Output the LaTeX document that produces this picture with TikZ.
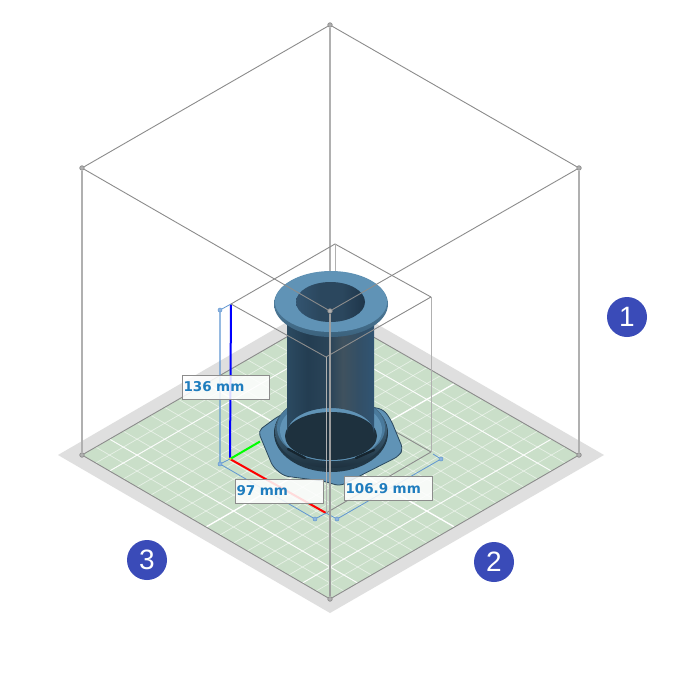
\documentclass[tikz,border=0pt]{standalone}
\usepackage{fontspec}
\setmainfont{Liberation Sans}
\newfontfamily\dimfont{DejaVu Sans}
\usetikzlibrary{calc,shapes.geometric}
\definecolor{plate}{HTML}{DFDFDF}
\definecolor{bed}{HTML}{CADFC9}
\definecolor{edgegrey}{HTML}{8C8C8C}
\definecolor{postgrey}{HTML}{B0B0B0}
\definecolor{dimblue}{HTML}{5F96D2}
\definecolor{dimtext}{HTML}{1F7DBE}
\definecolor{badge}{HTML}{3A4BB8}
\definecolor{steel}{HTML}{6093B6}
\definecolor{steeldark}{HTML}{4A7A9C}
\pgfdeclarehorizontalshading{bodyshade}{100bp}{rgb(0bp)=(.17,.29,.38);rgb(25bp)=(.17,.29,.38);rgb(37bp)=(.14,.24,.32);rgb(50bp)=(.17,.27,.35);rgb(57bp)=(.25,.32,.37);rgb(66bp)=(.20,.31,.40);rgb(75bp)=(.19,.33,.45);rgb(100bp)=(.19,.33,.45)}
\pgfdeclarehorizontalshading{holeshade}{100bp}{rgb(0bp)=(.20,.33,.44);rgb(25bp)=(.20,.33,.44);rgb(42bp)=(.17,.28,.37);rgb(58bp)=(.17,.28,.37);rgb(75bp)=(.12,.21,.29);rgb(100bp)=(.12,.21,.29)}
\tikzset{
  bedgrid/.style={white,opacity=.55,line width=.7pt},
  bedsecond/.style={white,opacity=.85,line width=.9pt},
  bedmajor/.style={white,line width=1.3pt},
  boxline/.style={edgegrey,line width=.9pt},
  postline/.style={postgrey,line width=1.4pt},
  cornerdot/.style={circle,draw=edgegrey,fill=postgrey,line width=.7pt,minimum size=4.5pt,inner sep=0pt},
  dimline/.style={dimblue,line width=.8pt},
  dimdot/.style={circle,draw=dimblue,fill=dimblue!70,line width=.5pt,minimum size=4pt,inner sep=0pt},
  dimlabel/.style={draw=edgegrey,fill=white,fill opacity=.86,text opacity=1,line width=.8pt,minimum height=24pt,inner sep=0pt,text=dimtext,font=\dimfont\bfseries\fontsize{13.5}{15}\selectfont},
  numbadge/.style={circle,fill=badge,minimum size=40pt,inner sep=0pt,text=white,font=\fontsize{28}{30}\selectfont},
  slot/.style={line width=2.4pt,draw=black!70!steeldark,line cap=round}
}
\begin{document}
\begin{tikzpicture}[x=1pt,y=-1pt]
\useasboundingbox (0,0) rectangle (675,675);
\fill[white] (0,0) rectangle (675,675);
% key points
\coordinate (L) at (82,455);
\coordinate (B) at (330,599);
\coordinate (R) at (579,455);
\coordinate (T) at (330,312);
% plate and bed
\fill[plate] (58,455) -- (330,613) -- (604,455) -- (330,297) -- cycle;
\fill[bed] (L) -- (B) -- (R) -- (T) -- cycle;
\foreach \i in {1,...,17}{
  \draw[bedgrid] ($(L)!\i/18!(B)$) -- ($(T)!\i/18!(R)$);
  \draw[bedgrid] ($(L)!\i/18!(T)$) -- ($(B)!\i/18!(R)$);
}
\foreach \i in {2,16}{
  \draw[bedsecond] ($(L)!\i/18!(B)$) -- ($(T)!\i/18!(R)$);
  \draw[bedsecond] ($(L)!\i/18!(T)$) -- ($(B)!\i/18!(R)$);
}
\draw[bedmajor] ($(L)!.5!(B)$) -- ($(T)!.5!(R)$);
\draw[bedmajor] ($(L)!.5!(T)$) -- ($(B)!.5!(R)$);
% big box: back and floor edges
\node[cornerdot] (c1) at (330,25) {};
\node[cornerdot] (c2) at (82,168) {};
\node[cornerdot] (c3) at (579,168) {};
\node[cornerdot] (c4) at (330,311) {};
\node[cornerdot] (c5) at (L) {};
\node[cornerdot] (c6) at (B) {};
\node[cornerdot] (c7) at (R) {};
\draw[boxline] (c5) -- (c6) -- (c7) -- (T) -- (c5);
\draw[boxline] (c2) -- (c1) -- (c3);
\draw[postline] (c2) -- (c5);
\draw[postline] (c3) -- (c7);
\draw[postline] (c1) -- (330,280);
% small box: back parts
\coordinate (st) at (335,244);
\coordinate (sl) at (231,304);
\coordinate (sr) at (431,297);
\coordinate (sf) at (326,357);
\coordinate (o) at (230,459);
\coordinate (sb) at (326,513);
\coordinate (sbr) at (431,452);
\draw[boxline] (sl) -- (st) -- (sr);
\draw[postline,line width=1pt] (st) -- (335,280);
\draw[postline,line width=1pt] (sr) -- (sbr);
\draw[boxline] (sbr) -- (340,400);
% model base
\fill[steel,draw=steeldark!60!black,line width=.8pt,rounded corners=5pt]
  (258,431) -- (277,417) -- (287,412) -- (373,407) -- (384,410) -- (391,420) -- (403,449) -- (399,456)
  -- (340,486) -- (323,481) -- (284,476) -- (273,467) -- cycle;
\fill[black!55!steeldark] (331,433) ellipse [x radius=57,y radius=39];
\shade[top color=steel!90!black,bottom color=black!60!steeldark] (331,431) ellipse [x radius=56,y radius=37];
\fill[steeldark] (331,428) ellipse [x radius=54,y radius=33];
\fill[steel] (331,430) ellipse [x radius=51,y radius=31];
\draw[slot] (288,449) -- (305,458);
\draw[slot] (356,458) -- (374,450);
\fill[black!60!steeldark] (331,436) ellipse [x radius=46,y radius=24];
% model body
\shade[shading=bodyshade] (287,322) -- (374,322) -- (374,433)
  arc [start angle=0,end angle=180,x radius=43.5,y radius=-25] -- cycle;
% flange
\shade[top color=steel,bottom color=steeldark!80!black] (331,304) ellipse [x radius=57,y radius=33];
\fill[steel] (331,302) ellipse [x radius=56,y radius=30];
\shade[shading=holeshade] (330.5,302) ellipse [x radius=34.5,y radius=20];
% axes
\draw[blue,line width=2pt] (sl) -- (o);
\draw[red,line width=2pt] (o) -- (sb);
\draw[green,line width=2pt] (o) -- (260,441.5);
\fill[yellow!85!black] (o) circle (1.6);
% dimension lines
\node[dimdot] (d1) at (220,310) {};
\node[dimdot] (d2) at (220,464) {};
\node[dimdot] (d3) at (315,519) {};
\node[dimdot] (d4) at (337,519) {};
\node[dimdot] (d5) at (441,459) {};
\draw[dimline,opacity=.65,line width=1.1pt] (d1) -- (d2);
\draw[dimline] (d2) -- (d3);
\draw[dimline] (d4) -- (d5);
\draw[dimline] (d1) -- (sl);
\draw[dimline] (d2) -- (o);
\draw[dimline] (d3) -- (sb);
\draw[dimline] (d4) -- (sb);
\draw[dimline] (d5) -- (433,454);
% front box edges
\draw[boxline] (sl) -- (sf) -- (sr);
\draw[boxline] (sb) -- (sbr);
\draw[postline,line width=1pt] (sf) -- (sb);
\draw[boxline] (c2) -- (c4) -- (c3);
\draw[postline,edgegrey!85!white] (c4) -- (c6);
\node[cornerdot] at (c4) {};
% labels
\node[dimlabel,minimum width=87pt,text width=84pt,align=left] (l1) at (225.5,387) {136 mm};
\node[dimlabel,minimum width=88pt,text width=85pt,align=left] (l2) at (279,491) {97 mm};
\node[dimlabel,minimum width=88pt,text width=85pt,align=left] (l3) at (388,488.5) {106.9 mm};
% badges
\node[numbadge] (b1) at (627,317) {1};
\node[numbadge] (b2) at (494,562) {2};
\node[numbadge] (b3) at (147,560) {3};
\end{tikzpicture}
\end{document}
